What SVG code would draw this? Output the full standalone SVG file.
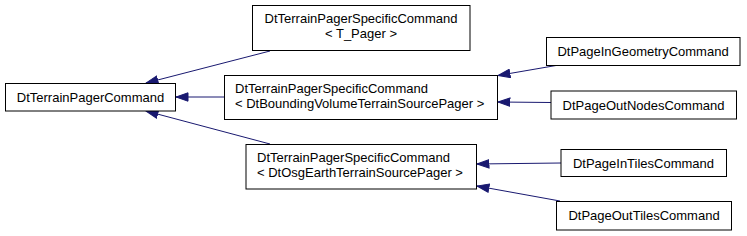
<svg xmlns="http://www.w3.org/2000/svg" width="747" height="236" viewBox="0 0 747 236">
<style>
.box{fill:#fff;stroke:#000;stroke-width:1}
.t{font-family:"Liberation Sans",Arial,sans-serif;font-size:13px;fill:#000}
.c{text-anchor:middle}
.e{fill:none;stroke:#191970;stroke-width:1;marker-end:url(#ah)}
</style>
<defs>
<marker id="ah" markerUnits="userSpaceOnUse" viewBox="0 0 13 10" refX="12.5" refY="5" markerWidth="13" markerHeight="10" orient="auto">
<path d="M12.5,5 L0.5,0.8 L0.5,9.2 z" fill="#191970" stroke="#191970" stroke-width="1"/>
</marker>
</defs>
<rect width="747" height="236" fill="#fff"/>
<g id="edges">
<path class="e" d="M270,51 L146,83"/>
<path class="e" d="M224,97 L176,97"/>
<path class="e" d="M270,144 L146,111"/>
<path class="e" d="M556,65.5 L498,75.5"/>
<path class="e" d="M551,102.5 L498,102"/>
<path class="e" d="M561,163 L477,164"/>
<path class="e" d="M560,201 L477,186"/>
</g>
<g id="n_base">
<rect class="box" x="5.5" y="83.5" width="170" height="27.5"/>
<text class="t c" x="90.5" y="101.5">DtTerrainPagerCommand</text>
</g>
<g id="n_tpager">
<rect class="box" x="252.5" y="5.5" width="217.5" height="45"/>
<text class="t c" x="361" y="23">DtTerrainPagerSpecificCommand</text>
<text class="t c" x="361" y="38">&lt; T_Pager &gt;</text>
</g>
<g id="n_bv">
<rect class="box" x="224.5" y="75.5" width="273" height="44"/>
<text class="t" x="235" y="93">DtTerrainPagerSpecificCommand</text>
<text class="t" x="235" y="108">&lt; DtBoundingVolumeTerrainSourcePager &gt;</text>
</g>
<g id="n_osg">
<rect class="box" x="246" y="144.5" width="230.5" height="44.5"/>
<text class="t" x="257" y="162">DtTerrainPagerSpecificCommand</text>
<text class="t" x="257" y="177">&lt; DtOsgEarthTerrainSourcePager &gt;</text>
</g>
<g id="n_ingeom">
<rect class="box" x="546.5" y="37.5" width="193.5" height="28"/>
<text class="t c" x="643" y="56">DtPageInGeometryCommand</text>
</g>
<g id="n_outnodes">
<rect class="box" x="551" y="91" width="185.5" height="28"/>
<text class="t c" x="643.5" y="109.5">DtPageOutNodesCommand</text>
</g>
<g id="n_intiles">
<rect class="box" x="561" y="149.5" width="165.5" height="27"/>
<text class="t c" x="643.5" y="167.5">DtPageInTilesCommand</text>
</g>
<g id="n_outtiles">
<rect class="box" x="556.5" y="201.5" width="175" height="28.5"/>
<text class="t c" x="644" y="220">DtPageOutTilesCommand</text>
</g>
</svg>
